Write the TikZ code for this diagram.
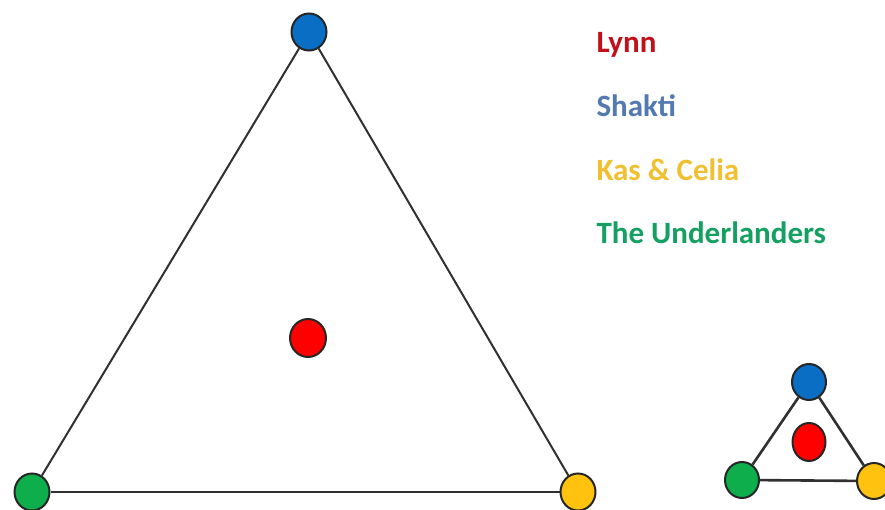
\documentclass[tikz,border=0pt]{standalone}
\usepackage{fontspec}
\setmainfont{Carlito}
\usepackage{xcolor}
\usetikzlibrary{positioning,shapes.geometric}
\definecolor{dotred}{HTML}{FF0000}
\definecolor{dotblue}{HTML}{0A6EC4}
\definecolor{dotyellow}{HTML}{FFC20E}
\definecolor{dotgreen}{HTML}{0DAE4B}
\definecolor{edgegray}{HTML}{303030}
\definecolor{lynncol}{HTML}{C0101C}
\definecolor{shakticol}{HTML}{5279B0}
\definecolor{kascol}{HTML}{F0C030}
\definecolor{undercol}{HTML}{14A060}
\tikzset{
  dot/.style={ellipse, draw=black!85, line width=2pt, minimum width=35pt, minimum height=37pt, inner sep=0pt},
  smalldot/.style={dot, minimum width=34pt, minimum height=36pt},
  side/.style={draw=edgegray, line width=2pt},
  legend/.style={anchor=base west, font=\bfseries\fontsize{31}{36}\selectfont}
}

\begin{document}
\begin{tikzpicture}[x=1pt, y=-1pt]
\useasboundingbox (0,0) rectangle (885,510);
% big triangle
\node[dot, fill=dotblue] (top) at (309,32) {};
\node[dot, fill=dotgreen] (left) at (32,492) {};
\node[dot, fill=dotyellow] (right) at (578,492) {};
\node[dot, fill=dotred, minimum width=36pt, minimum height=38pt] (mid) at (308,338) {};
\draw[side] (top) -- (left);
\draw[side] (top) -- (right);
\draw[side] (left) -- (right);
% small triangle
\node[smalldot, fill=dotblue] (stop) at (809,382) {};
\node[smalldot, fill=dotgreen] (sleft) at (742,480) {};
\node[smalldot, fill=dotyellow] (sright) at (874,481) {};
\node[smalldot, fill=dotred, minimum width=33pt, minimum height=38pt] (smid) at (809,442) {};
\draw[side, line width=2.6pt] (stop) -- (sleft);
\draw[side, line width=2.6pt] (stop) -- (sright);
\draw[side, line width=2.6pt] (sleft) -- (sright);
% legend
\node[legend, text=lynncol] (lynn) at (593,53) {Lynn};
\node[legend, text=shakticol, below=64pt of lynn.base west, anchor=base west] (shakti) {Shakti};
\node[legend, text=kascol, below=64pt of shakti.base west, anchor=base west] (kas) {Kas \& Celia};
\node[legend, text=undercol, below=63pt of kas.base west, anchor=base west] (under) {The Underlanders};
\end{tikzpicture}
\end{document}
